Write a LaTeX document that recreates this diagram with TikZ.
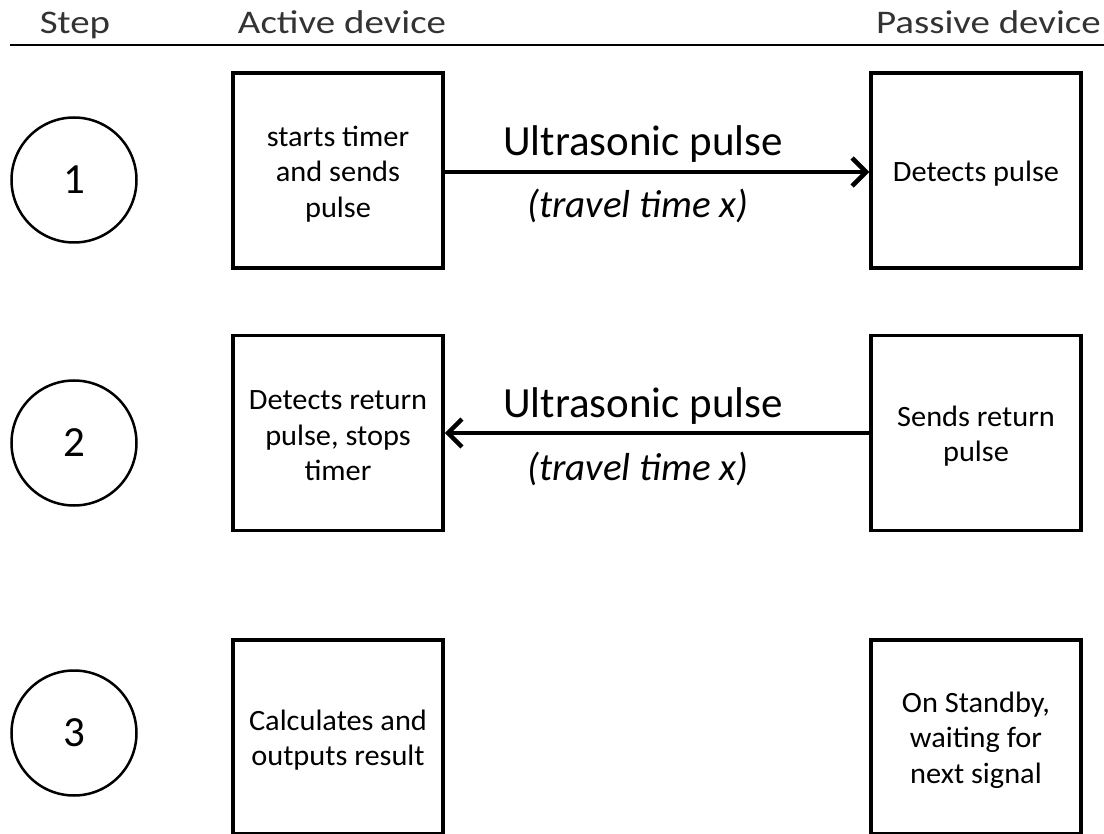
\documentclass[tikz,border=0pt]{standalone}
\usepackage{fontspec}
\setmainfont{Carlito}
\newfontfamily\hdrfont[FakeStretch=1.18]{Carlito}
\newfontfamily\boxfont[FakeStretch=1.03]{Carlito}
\usetikzlibrary{arrows.meta}
\begin{document}
\begin{tikzpicture}[x=1pt,y=-1pt,
  box/.style={draw,line width=3.5pt,minimum width=210pt,minimum height=195pt,inner sep=0pt},
  boxtxt/.style={align=center,font=\boxfont\fontsize{29.5}{35.5}\selectfont,inner sep=0pt},
  stepc/.style={draw,circle,line width=2.5pt,minimum size=125pt,inner sep=0pt,font=\fontsize{43}{48}\selectfont},
  hdr/.style={font=\hdrfont\fontsize{33}{36}\selectfont,text=black!80,anchor=base,inner sep=0pt},
  lbl/.style={font=\fontsize{43}{48}\selectfont,anchor=base,inner sep=0pt},
  lbli/.style={font=\fontsize{39}{44}\selectfont\itshape,anchor=base,inner sep=0pt},
  conn/.style={line width=4.5pt,-{Straight Barb[length=14pt,width=28pt,line width=4.5pt]}}]
\useasboundingbox (0,0) rectangle (1104,834);
\node[hdr] (hstep) at (75,34) {Step};
\node[hdr] (hact) at (342,34) {Active device};
\node[hdr,anchor=base east] (hpas) at (1101,34) {Passive device};
\coordinate (l0) at (10,45);
\coordinate (l1) at (1104,45);
\draw[line width=2.5pt] (l0) -- (l1);
\node[stepc] (s1) at (74,180) {1};
\node[stepc] (s2) at (74,443) {2};
\node[stepc] (s3) at (74,733) {3};
\node[box] (a1) at (338,170.5) {};
\node[box] (p1) at (976,170.5) {};
\node[box] (a2) at (338,433) {};
\node[box] (p2) at (976,433) {};
\node[box,minimum height=194pt] (a3) at (338,737) {};
\node[box,minimum height=194pt] (p3) at (976,737) {};
\node[boxtxt] (a1t) at ([yshift=-3.5pt]a1.center) {starts timer\\and sends\\pulse};
\node[boxtxt] (p1t) at ([yshift=-3.5pt]p1.center) {Detects pulse};
\node[boxtxt] (a2t) at ([yshift=-3pt]a2.center) {Detects return\\pulse, stops\\timer};
\node[boxtxt] (p2t) at ([yshift=-3pt]p2.center) {Sends return\\pulse};
\node[boxtxt] (a3t) at ([yshift=-3pt]a3.center) {Calculates and\\outputs result};
\node[boxtxt] (p3t) at ([yshift=-3pt]p3.center) {On Standby,\\waiting for\\next signal};
\draw[conn] (a1.east |- 0,172) -- (p1.west |- 0,172);
\draw[conn] (p2.west) -- (a2.east);
\node[lbl] (u1) at (643,156) {Ultrasonic pulse};
\node[lbli] (t1) at (638,218) {(travel time x)};
\node[lbl] (u2) at (643,418) {Ultrasonic pulse};
\node[lbli] (t2) at (638,480) {(travel time x)};
\end{tikzpicture}
\end{document}
